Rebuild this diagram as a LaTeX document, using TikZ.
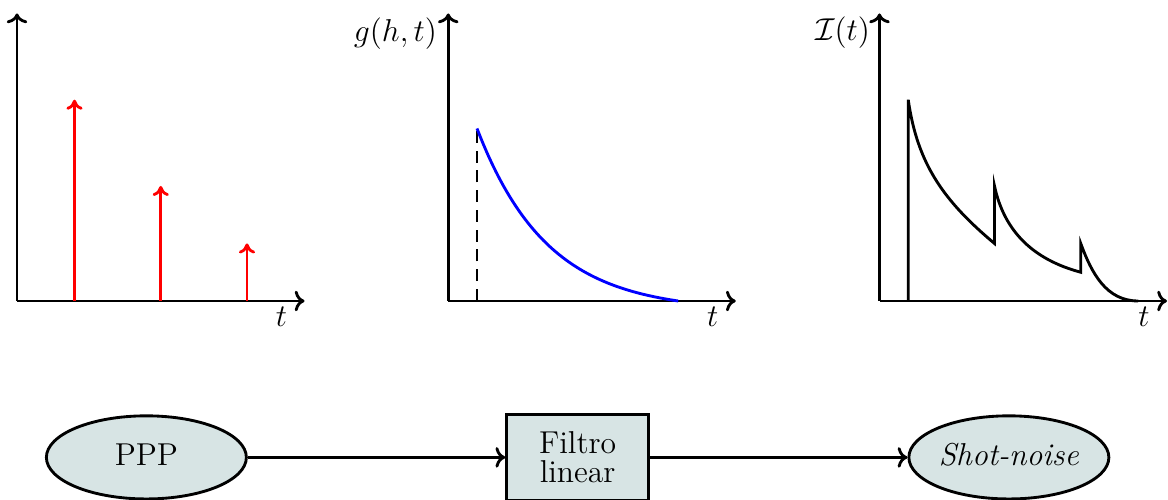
\documentclass[tikz,border=0pt]{standalone}
\usepackage{amsmath,amssymb}
\usetikzlibrary{arrows.meta,positioning,shapes.geometric}
\definecolor{blockfill}{RGB}{215,228,228}
\tikzset{
  axis/.style   = {->, line width=1.3pt},
  spike/.style  = {-{To[length=1.6mm,width=2.6mm]}, line width=1.3pt, red},
  pulse/.style  = {line width=1.3pt},
  blob/.style   = {ellipse, draw, line width=1.3pt, fill=blockfill, inner sep=0pt,
                   minimum width=3.2cm, minimum height=1.33cm, font=\Large,
                   text depth=0.25em},
  filterbox/.style = {draw, line width=1.3pt, fill=blockfill, inner sep=0pt,
                   minimum width=2.27cm, minimum height=1.38cm, align=center,
                   font=\fontsize{14.4}{13}\selectfont},
  flow/.style   = {->, line width=1.3pt},
  lbl/.style    = {font=\Large, inner sep=0pt},
}
\begin{document}
\begin{tikzpicture}[x=0.92cm,y=0.92cm]
  \useasboundingbox (-0.2957,-3.4609) rectangle (20.0174,5.2348);

  % Poisson points
  \draw[axis] (0,0) -- (5,0);
  \draw[axis] (0,0) -- (0,5);
  \draw[spike] (1,0) -- (1,3.5);
  \draw[spike] (2.5,0) -- (2.5,2);
  \draw[spike] (4,0) -- (4,1);
  \node[lbl] (t1) at (4.6,-0.27) {$t$};

  % impulse response
  \begin{scope}[shift={(7.5,0)}]
    \draw[axis] (0,0) -- (5,0);
    \draw[axis] (0,0) -- (0,5);
    \draw[line width=1.3pt, dash pattern=on 5.5pt off 3.5pt] (0.5,0) -- (0.5,3);
    \draw[pulse, blue] plot[domain=0.5:4, samples=60, smooth]
      (\x,{3.181*exp(-(\x-0.5)/1.22)-0.1807});
    \node[lbl] (t2) at (4.6,-0.27) {$t$};
    \node[lbl, anchor=east] (g) at (-0.19,4.65) {$g(h,t)$};
  \end{scope}

  % shot-noise
  \begin{scope}[shift={(15,0)}]
    \draw[axis] (0,0) -- (5,0);
    \draw[axis] (0,0) -- (0,5);
    \draw[pulse, line join=miter] (0.5,0) -- (0.5,3.5)
      to[out=-82, in=140] (2,1) -- (2,2)
      to[out=-78, in=165] (3.5,0.5) -- (3.5,1)
      to[out=-70, in=180] (4.5,0);
    \node[lbl] (t3) at (4.6,-0.27) {$t$};
    \node[lbl, anchor=east] (I) at (-0.16,4.66) {$\mathcal{I}(t)$};
  \end{scope}

  % block diagram
  \node[blob] (ppp) at (2.25,-2.72) {PPP};
  \node[filterbox] (filter) at (9.75,-2.72) {Filtro\\linear};
  \node[blob] (shot) at (17.25,-2.72) {\textit{Shot-noise}};
  \draw[flow] (ppp) -- (filter);
  \draw[flow] (filter) -- (shot);
\end{tikzpicture}
\end{document}
